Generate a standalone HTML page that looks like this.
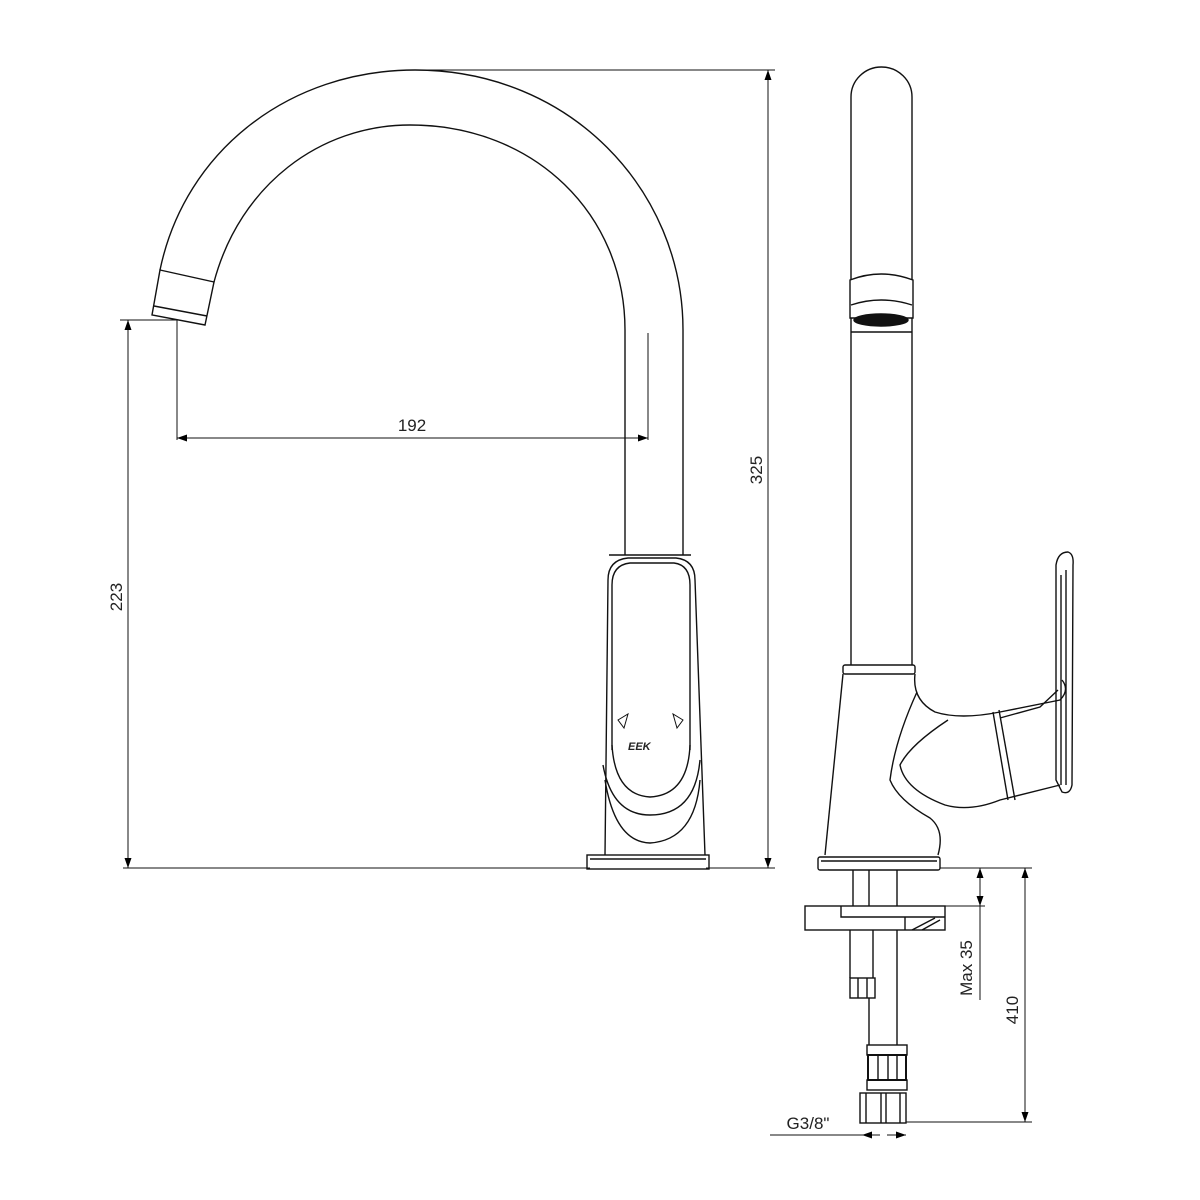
<!DOCTYPE html>
<html><head><meta charset="utf-8"><style>
html,body{margin:0;padding:0;background:#fff}
svg{display:block}
text{font-family:"Liberation Sans",sans-serif;font-size:17px;fill:#222}
</style></head><body>
<svg width="1200" height="1200" viewBox="0 0 1200 1200" xmlns="http://www.w3.org/2000/svg">
<defs>
<marker id="a" viewBox="0 0 10 10" refX="10" refY="5" markerWidth="10" markerHeight="10" orient="auto-start-reverse" markerUnits="userSpaceOnUse"><path d="M0,1.5 L10,5 L0,8.5 z" fill="#000"/></marker>
</defs>
<g fill="none" stroke="#111" stroke-width="1.4">
<path d="M160,270 C185,150 290,70 415,70 C570,70 683,190 683,330 L683,555"/>
<path d="M214,282 C240,185 320,125 410,125 C535,125 625,215 625,330 L625,555"/>
<line x1="648" y1="333" x2="648" y2="440" stroke-width="1"/>
<path d="M160,270 L214,282 L205,325 L152,315 Z"/>
<line x1="154" y1="306" x2="207" y2="316"/>
<path d="M609,555 L691,555"/>
<path d="M605,855 L608,580 Q608,560 628,558 L676,558 Q695,560 695,580 L705,855"/>
<path d="M612,750 L612,585 Q612,565 630,563 L674,563 Q690,565 690,585 L690,750"/>
<path d="M612,745 Q615,795 650,797 Q688,795 690,745"/>
<path d="M603,765 Q612,815 650,815 Q695,815 700,760"/>
<path d="M605,780 Q615,842 650,843 Q695,840 700,780"/>
<path d="M618,720 L628,714 L624,728 Z" stroke-width="1"/>
<path d="M683,720 L673,714 L677,728 Z" stroke-width="1"/>
<text x="628" y="750" style="font-size:11px;font-weight:bold;font-style:italic" stroke="none">EEK</text>
<rect x="587" y="855" width="122" height="14"/>
<line x1="590" y1="859" x2="706" y2="859"/>
<g stroke-width="1">
<line x1="120" y1="320" x2="177" y2="320"/>
<line x1="177" y1="320" x2="177" y2="440"/>
<line x1="128" y1="320" x2="128" y2="868" marker-start="url(#a)" marker-end="url(#a)"/>
<line x1="177" y1="438" x2="648" y2="438" marker-start="url(#a)" marker-end="url(#a)"/>
<line x1="123" y1="868" x2="590" y2="868"/>
<line x1="706" y1="868" x2="775" y2="868"/>
<line x1="415" y1="70" x2="775" y2="70"/>
<line x1="768" y1="70" x2="768" y2="868" marker-start="url(#a)" marker-end="url(#a)"/>
</g>
<path d="M851,665 L851,97 A30.5,30 0 0 1 912,97 L912,665"/>
<path d="M850,280 Q881,268 913,280 L913,318 L850,318 Z" fill="#fff"/>
<path d="M851,305 Q881,295 912,305"/>
<ellipse cx="881" cy="320" rx="27" ry="6" fill="#111"/>
<line x1="851" y1="332" x2="912" y2="332"/>
<rect x="843" y="665" width="72" height="9" rx="2"/>
<path d="M843,674 L825,855"/>
<path d="M915,674 Q912,700 935,712 Q960,720 1000,712 L1060,700 Q1070,690 1062,680"/>
<path d="M917,692 Q895,740 890,780 Q898,800 930,818 Q945,830 938,855"/>
<path d="M948,720 Q910,745 900,765 Q905,790 945,805 Q970,812 1000,800 L1060,785"/>
<path d="M993,712 L1008,800"/>
<path d="M999,710 L1015,800"/>
<path d="M1000,718 L1040,707 L1058,690"/>
<path d="M1056,565 Q1058,552 1068,552 Q1074,554 1073,565 L1072,785 Q1070,795 1062,792 L1056,780 Z"/>
<line x1="1061" y1="575" x2="1061" y2="785"/>
<line x1="1066" y1="570" x2="1066" y2="785"/>
<rect x="818" y="857" width="122" height="13" rx="2"/>
<line x1="821" y1="861" x2="937" y2="861"/>
<line x1="853" y1="870" x2="853" y2="906"/>
<line x1="869" y1="870" x2="869" y2="906"/>
<line x1="897" y1="870" x2="897" y2="906"/>
<rect x="805" y="906" width="140" height="24"/>
<path d="M841,906 L841,917 L945,917"/>
<line x1="905" y1="917" x2="905" y2="930"/>
<line x1="912" y1="930" x2="935" y2="918"/>
<line x1="922" y1="930" x2="940" y2="920"/>
<line x1="850" y1="930" x2="850" y2="978"/>
<line x1="873" y1="930" x2="873" y2="978"/>
<line x1="897" y1="930" x2="897" y2="1045"/>
<rect x="850" y="978" width="25" height="20"/>
<line x1="858" y1="978" x2="858" y2="998"/><line x1="867" y1="978" x2="867" y2="998"/>
<line x1="869" y1="998" x2="869" y2="1045"/>
<rect x="867" y="1045" width="40" height="10"/>
<rect x="868" y="1055" width="38" height="25" stroke-width="2"/>
<line x1="878" y1="1055" x2="878" y2="1080"/><line x1="888" y1="1055" x2="888" y2="1080"/><line x1="897" y1="1055" x2="897" y2="1080"/>
<rect x="867" y="1080" width="40" height="10"/>
<rect x="860" y="1093" width="46" height="30"/>
<line x1="866" y1="1093" x2="866" y2="1123"/><line x1="900" y1="1093" x2="900" y2="1123"/>
<line x1="881" y1="1093" x2="881" y2="1123"/><line x1="886" y1="1093" x2="886" y2="1123"/>
<g stroke-width="1">
<line x1="940" y1="868" x2="1032" y2="868"/>
<line x1="945" y1="906" x2="985" y2="906"/>
<line x1="980" y1="868" x2="980" y2="906" marker-start="url(#a)" marker-end="url(#a)"/>
<line x1="980" y1="906" x2="980" y2="1000"/>
<line x1="1025" y1="868" x2="1025" y2="1122" marker-start="url(#a)" marker-end="url(#a)"/>
<line x1="906" y1="1122" x2="1032" y2="1122"/>
<line x1="770" y1="1135" x2="862" y2="1135"/>
<line x1="862" y1="1135" x2="880" y2="1135" marker-start="url(#a)"/>
<line x1="887" y1="1135" x2="906" y2="1135" marker-end="url(#a)"/>
</g>
</g>
<text x="412" y="431" text-anchor="middle">192</text>
<text transform="translate(122,597) rotate(-90)" text-anchor="middle">223</text>
<text transform="translate(762,470) rotate(-90)" text-anchor="middle">325</text>
<text transform="translate(972,968) rotate(-90)" text-anchor="middle">Max 35</text>
<text transform="translate(1018,1010) rotate(-90)" text-anchor="middle">410</text>
<text x="808" y="1129" text-anchor="middle">G3/8"</text>
</svg>
</body></html>
